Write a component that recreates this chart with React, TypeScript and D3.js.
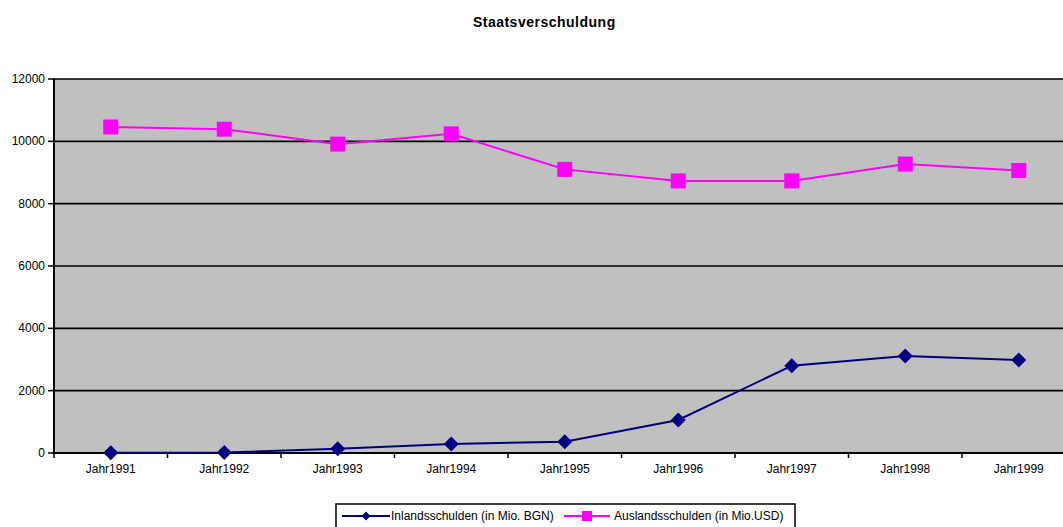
import React from "react";
import * as d3 from "d3";

const categories = ["Jahr1991", "Jahr1992", "Jahr1993", "Jahr1994", "Jahr1995", "Jahr1996", "Jahr1997", "Jahr1998", "Jahr1999"];
const inlandValues = [10, 15, 140, 290, 360, 1060, 2800, 3110, 2985];
const auslandValues = [10460, 10390, 9910, 10240, 9100, 8730, 8730, 9270, 9065];
const yTicks = [0, 2000, 4000, 6000, 8000, 10000, 12000];
const title = "Staatsverschuldung";
const inlandLabel = "Inlandsschulden (in Mio. BGN)";
const auslandLabel = "Auslandsschulden (in Mio.USD)";

const W = 1063, H = 527;
const left = 54, top = 79, bottom = 453;
const bandW = 113.5;
const right = left + bandW * categories.length;
const font = "Liberation Sans, Arial, sans-serif";
const NAVY = "#000080", MAG = "#FF00FF";

export default function App() {
  const x = d3.scaleBand<string>().domain(categories).range([left, right]).padding(0);
  const y = d3.scaleLinear().domain([0, 12000]).range([bottom, top]);
  const cx = (c: string) => (x(c) as number) + x.bandwidth() / 2;
  const line = d3.line<number>().x((_, i) => cx(categories[i])).y((v) => y(v));
  const diamond = (px: number, py: number, r: number) => `M${px},${py - r}L${px + r},${py}L${px},${py + r}L${px - r},${py}Z`;

  return (
    <svg width={W} height={H} style={{ position: "absolute", left: 0, top: 0, background: "#fff" }}>
      <text x={544.3} y={27} textAnchor="middle" fontFamily={font} fontSize={14} fontWeight="bold" letterSpacing={0.5}>{title}</text>
      <rect x={left} y={top} width={right - left} height={bottom - top} fill="#C0C0C0" />
      {yTicks.map((t) => (
        <g key={t}>
          {t > 0 && <line x1={left} x2={right} y1={y(t)} y2={y(t)} stroke="#000" strokeWidth={1.6} />}
          <line x1={left - 6} x2={left} y1={y(t)} y2={y(t)} stroke="#000" strokeWidth={1.5} />
          <text x={45} y={y(t) + 4} textAnchor="end" fontFamily={font} fontSize={12}>{t}</text>
        </g>
      ))}
      <line x1={left} x2={left} y1={top} y2={bottom} stroke="#000" strokeWidth={2} />
      <line x1={left} x2={right} y1={bottom} y2={bottom} stroke="#000" strokeWidth={2} />
      {categories.map((c, i) => (
        <g key={c}>
          <line x1={(x(c) as number) + bandW} x2={(x(c) as number) + bandW} y1={bottom} y2={bottom + 5} stroke="#000" strokeWidth={1.5} />
          {i === 0 && <line x1={left} x2={left} y1={bottom} y2={bottom + 5} stroke="#000" strokeWidth={1.5} />}
          <text x={cx(c)} y={473} textAnchor="middle" fontFamily={font} fontSize={12}>{c}</text>
        </g>
      ))}
      <path d={line(auslandValues) as string} fill="none" stroke={MAG} strokeWidth={2} />
      {auslandValues.map((v, i) => (
        <rect key={i} x={cx(categories[i]) - 7.5} y={y(v) - 7.5} width={15} height={15} fill={MAG} />
      ))}
      <path d={line(inlandValues) as string} fill="none" stroke={NAVY} strokeWidth={2} />
      {inlandValues.map((v, i) => (
        <path key={i} d={diamond(cx(categories[i]), y(v), 7.5)} fill={NAVY} />
      ))}
      <rect x={336} y={504} width={459} height={30} fill="#fff" stroke="#000" strokeWidth={1.5} />
      <line x1={342} x2={390} y1={516} y2={516} stroke={NAVY} strokeWidth={2} />
      <path d={diamond(366, 516, 4.5)} fill={NAVY} />
      <text x={391} y={520} fontFamily={font} fontSize={12}>{inlandLabel}</text>
      <line x1={564} x2={610} y1={516} y2={516} stroke={MAG} strokeWidth={2} />
      <rect x={582} y={511} width={10} height={10} fill={MAG} />
      <text x={614} y={520} fontFamily={font} fontSize={12}>{auslandLabel}</text>
    </svg>
  );
}
